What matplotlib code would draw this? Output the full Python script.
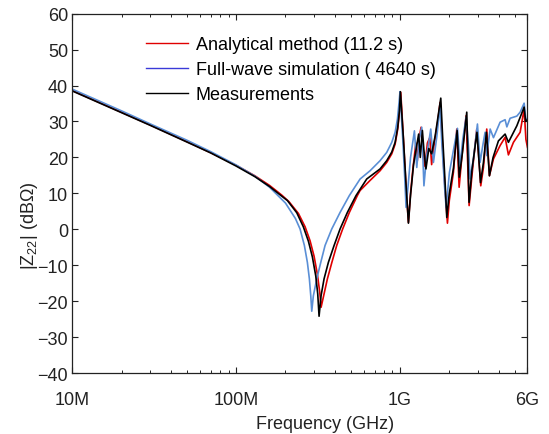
import matplotlib
matplotlib.use('Agg')
import matplotlib.pyplot as plt
from matplotlib.lines import Line2D
from matplotlib.ticker import LogLocator, NullFormatter

# frequency in GHz, |Z22| in dB-ohm
f_ana = [0.01, 0.02, 0.03, 0.05, 0.07, 0.1, 0.13, 0.16, 0.19, 0.21, 0.24, 0.2635, 0.2826, 0.299, 0.3131,
         0.3238, 0.330, 0.344, 0.3605, 0.384, 0.411, 0.447, 0.491, 0.5495, 0.571, 0.657, 0.756, 0.830,
         0.891, 0.934, 0.969, 0.992, 1.011, 1.05, 1.09, 1.126, 1.16, 1.20, 1.25, 1.275, 1.31, 1.345, 1.38,
         1.42, 1.47, 1.52, 1.56, 1.62, 1.70, 1.757, 1.80, 1.86, 1.948, 2.0, 2.12, 2.222, 2.296, 2.384,
         2.532, 2.642, 2.75, 2.942, 3.112, 3.231, 3.385, 3.515, 3.72, 4.084, 4.381, 4.59, 4.926, 5.412,
         5.724, 5.87, 6.0]
z_ana = [38.6, 32.55, 29.0, 24.4, 21.3, 17.8, 14.9, 12.2, 9.5, 7.7, 4.4, 0.7, -3.2, -7.5, -12.5,
         -17.5, -21.7, -18.0, -13.8, -9.2, -4.5, 0.1, 4.7, 9.4, 10.8, 13.6, 16.3, 18.6,
         21.0, 23.7, 27.9, 32.6, 38.1, 25.0, 11.5, 1.9, 10.0, 17.0, 24.0, 19.0, 25.5, 28.4, 21.0,
         17.5, 24.0, 25.5, 18.0, 24.0, 30.0, 35.3, 27.0, 15.0, 1.7, 8.0, 15.9, 27.9, 11.7, 20.0,
         31.6, 6.6, 15.0, 27.9, 12.1, 17.2, 27.9, 14.9, 19.6, 23.3, 25.6, 20.7, 24.2, 27.0,
         33.5, 25.0, 22.8]

f_fw = [0.01, 0.02, 0.03, 0.05, 0.07, 0.1, 0.13, 0.16, 0.2, 0.23, 0.2455, 0.2609, 0.2721, 0.2799, 0.2854,
        0.2894, 0.296, 0.3105, 0.3285, 0.3489, 0.3834, 0.4309, 0.491, 0.571, 0.657, 0.756, 0.830, 0.891,
        0.934, 0.965, 0.987, 1.0, 1.04, 1.07, 1.089, 1.12, 1.16, 1.225, 1.266, 1.31, 1.358, 1.40, 1.45,
        1.541, 1.60, 1.68, 1.757, 1.80, 1.87, 1.912, 2.003, 2.12, 2.243, 2.328, 2.417, 2.532, 2.617,
        2.679, 2.807, 2.97, 3.083, 3.201, 3.307, 3.385, 3.551, 3.72, 4.084, 4.381, 4.49, 4.70, 5.166,
        5.412, 5.724, 5.85, 6.0]
z_fw = [39.0, 32.95, 29.3, 24.8, 21.6, 17.9, 14.8, 11.7, 7.3, 3.0, 0.1, -4.5, -9.2, -13.8, -18.5,
        -22.8, -18.5, -13.8, -9.2, -4.5, 0.1, 4.7, 9.4, 14.0, 16.3, 19.1, 21.4, 24.2,
        27.0, 30.7, 35.3, 38.3, 25.0, 14.0, 6.1, 12.0, 20.0, 27.4, 17.2, 25.0, 28.4, 12.1, 20.0,
        27.9, 18.6, 26.0, 34.4, 24.0, 12.0, 6.1, 15.8, 22.0, 28.1, 17.7, 25.1, 31.2, 23.3,
        14.0, 19.6, 29.3, 18.6, 23.3, 27.0, 20.5, 27.9, 25.5, 29.8, 30.5, 28.5, 30.9, 31.5,
        32.6, 35.1, 31.0, 30.2]

f_meas = [0.01, 0.02, 0.03, 0.05, 0.07, 0.1, 0.13, 0.16, 0.19, 0.2055, 0.2345, 0.2571, 0.276, 0.292,
          0.3062, 0.3148, 0.3207, 0.3298, 0.344, 0.3656, 0.3961, 0.4309, 0.4775, 0.5395, 0.6266, 0.756,
          0.830, 0.891, 0.934, 0.969, 0.992, 1.006, 1.05, 1.09, 1.126, 1.16, 1.21, 1.30, 1.33, 1.37,
          1.40, 1.44, 1.50, 1.56, 1.64, 1.774, 1.82, 1.88, 1.93, 2.0, 2.12, 2.232, 2.30, 2.40, 2.556,
          2.64, 2.75, 2.95, 3.10, 3.23, 3.37, 3.515, 3.70, 3.988, 4.381, 4.59, 5.166, 5.724, 5.85, 6.0]
z_meas = [38.5, 32.45, 28.9, 24.3, 21.25, 17.6, 14.66, 11.9, 9.2, 8.0, 4.6, 0.7, -3.3, -7.7,
          -13.0, -18.0, -24.2, -18.5, -13.8, -9.2, -4.5, 0.1, 4.7, 9.4, 14.0, 16.8,
          19.1, 21.5, 24.2, 28.4, 33.0, 38.3, 25.0, 12.0, 1.7, 9.5, 18.0, 26.5, 20.0, 27.5,
          22.0, 16.8, 22.5, 21.0, 26.0, 36.5, 26.0, 14.0, 3.3, 10.0, 17.0, 27.5, 14.5, 21.0, 32.6,
          7.5, 16.5, 27.0, 13.0, 18.5, 27.0, 14.9, 20.0, 24.6, 26.5, 24.2, 28.8, 34.0, 30.0, 30.5]

labels = ['Analytical method (11.2 s)', 'Full-wave simulation ( 4640 s)', 'Measurements']
xtick_vals = [0.01, 0.1, 1, 6]
xtick_text = ['10M', '100M', '1G', '6G']

plt.rcParams['font.family'] = ['Liberation Sans', 'DejaVu Sans']
plt.rcParams['mathtext.fontset'] = 'custom'
plt.rcParams['mathtext.rm'] = 'Liberation Sans'
plt.rcParams['mathtext.default'] = 'regular'

red = '#e00000'
blue = '#5a8fd6'
fs = 13

fig = plt.figure(figsize=(5.49, 4.35), dpi=100)
ax = fig.add_axes([0.1317, 0.1402, 0.8291, 0.826])

ax.semilogx(f_ana, z_ana, color=red, lw=1.2)
ax.semilogx(f_fw, z_fw, color=blue, lw=1.2)
ax.semilogx(f_meas, z_meas, color='black', lw=1.2)

ax.set_xlim(0.01, 6)
ax.set_ylim(-40, 60)
ax.set_xticks(xtick_vals)
ax.set_xticklabels(xtick_text)
ax.xaxis.set_minor_locator(LogLocator(base=10, subs=range(2, 10), numticks=20))
ax.xaxis.set_minor_formatter(NullFormatter())
ax.set_yticks(range(-40, 61, 10))

ax.tick_params(which='major', direction='in', top=True, right=True, length=4, width=0.8,
               labelsize=fs, colors='#222222')
ax.tick_params(axis='x', which='major', pad=13)
ax.tick_params(axis='y', which='major', pad=3)
ax.tick_params(which='minor', direction='in', top=True, length=2, width=0.6)
for s in ax.spines.values():
    s.set_linewidth(0.9)
    s.set_color('#222222')

ax.set_xlabel('Frequency (GHz)', fontsize=fs, color='#222222')
ax.xaxis.set_label_coords(0.555, -0.118)
ax.set_ylabel('|Z$_{22}$| (dBΩ)', fontsize=fs, color='#222222', va='center')
ax.yaxis.set_label_coords(-0.093, 0.412)

handles = [Line2D([], [], color=red, lw=1.0),
           Line2D([], [], color='#3a3ad8', lw=1.0),
           Line2D([], [], color='black', lw=1.0)]
ax.legend(handles, labels, loc='upper left', bbox_to_anchor=(0.266, 0.915),
          bbox_transform=fig.transFigure, frameon=False, borderpad=0, borderaxespad=0,
          handlelength=2.3, handletextpad=0.45, labelspacing=0.45, fontsize=fs)

plt.savefig('out.png', dpi=100)
